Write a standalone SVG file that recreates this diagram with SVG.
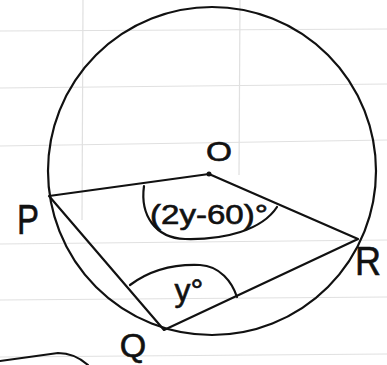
<svg xmlns="http://www.w3.org/2000/svg" width="387" height="365" viewBox="0 0 387 365">
<style>
.grid{stroke:#e0e0e0;stroke-width:1.2;fill:none}
.ln{stroke:#111;stroke-width:2.2;fill:none;stroke-linecap:round;stroke-linejoin:round}
.lbl{font-family:"Liberation Sans",Arial,sans-serif;fill:#111;stroke:#111;stroke-width:0.6}
</style>
<rect width="387" height="365" fill="#fff"/>
<g id="grid">
<line class="grid" x1="0" y1="31" x2="387" y2="29"/>
<line class="grid" x1="0" y1="88" x2="387" y2="84"/>
<line class="grid" x1="0" y1="146" x2="387" y2="140"/>
<line class="grid" x1="0" y1="244" x2="387" y2="240"/>
<line class="grid" x1="0" y1="300" x2="387" y2="297"/>
<line class="grid" x1="0" y1="357" x2="387" y2="354"/>
<line class="grid" x1="83" y1="0" x2="82" y2="220"/>
<line class="grid" x1="240" y1="0" x2="239" y2="175"/>
</g>
<g id="circle"><circle class="ln" cx="212" cy="171" r="164"/></g>
<g id="connectors">
<path class="ln" d="M49 196 L209 174 L358 239 L164 330 Z"/>
<path class="ln" d="M144 186 C140 215 155 238 185 239 C225 240 262 230 277 207"/>
<path class="ln" d="M130 285 C150 270 175 264 200 265 C220 266 232 282 237 297"/>
<path class="ln" d="M0 361 L58 353 C70 353 80 358 88 365"/>
</g>
<g id="O"><circle cx="209" cy="174" r="2.5" fill="#111"/><text class="lbl" x="219" y="161" font-size="28" text-anchor="middle" textLength="26" lengthAdjust="spacingAndGlyphs">O</text></g>
<g id="P"><text class="lbl" x="28" y="234" font-size="42" text-anchor="middle" textLength="22" lengthAdjust="spacingAndGlyphs">P</text></g>
<g id="Q"><text class="lbl" x="133" y="357" font-size="34" text-anchor="middle">Q</text></g>
<g id="R"><text class="lbl" x="368" y="275" font-size="40" text-anchor="middle" textLength="26" lengthAdjust="spacingAndGlyphs">R</text></g>
<g id="angleO"><text class="lbl" x="209" y="224" font-size="27" text-anchor="middle" textLength="118" lengthAdjust="spacingAndGlyphs">(2y-60)°</text></g>
<g id="angleQ"><text class="lbl" x="189" y="301" font-size="32" text-anchor="middle">y°</text></g>
</svg>
